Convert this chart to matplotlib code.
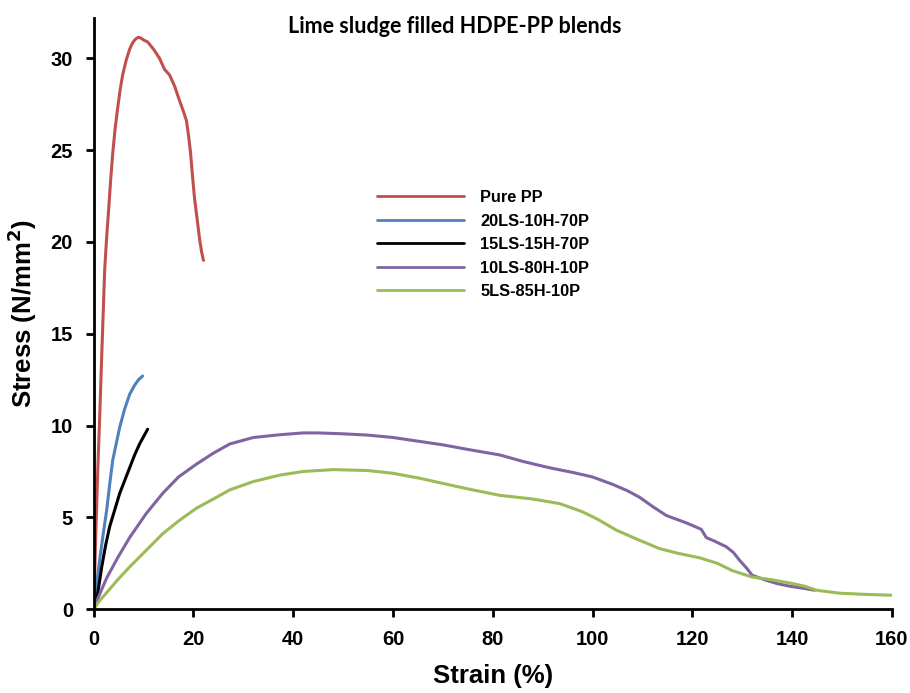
import matplotlib.pyplot as plt

# strain (%) / stress (N/mm2)
pp_x = [0, 0.4, 0.8, 1.2, 1.6, 2.2, 2.6, 3.0, 3.4, 3.8, 4.3, 4.8, 5.3, 5.8, 6.5, 7.2, 7.7, 8.2, 8.6, 9.0, 9.5, 10.0, 10.8, 11.4, 12.0, 12.6, 13.2, 13.7, 14.2, 15.2, 16.2, 17.2, 18.0, 18.6, 19.0, 19.4, 19.8, 20.2, 20.8, 21.2, 21.6, 22.0]
pp_y = [0, 4.0, 7.5, 10.5, 13.8, 18.5, 20.3, 21.8, 23.4, 24.8, 26.2, 27.3, 28.3, 29.1, 29.9, 30.5, 30.8, 31.0, 31.1, 31.15, 31.1, 31.0, 30.9, 30.7, 30.5, 30.25, 30.0, 29.7, 29.4, 29.1, 28.5, 27.7, 27.1, 26.6, 25.8, 24.9, 23.6, 22.4, 21.1, 20.2, 19.5, 19.0]

b_x = [0, 0.2, 0.6, 1.2, 1.9, 2.6, 3.2, 3.8, 4.5, 5.2, 6.2, 7.2, 8.2, 9.0, 9.8]
b_y = [0, 0.3, 1.4, 2.7, 4.1, 5.4, 6.8, 8.1, 9.0, 9.9, 10.9, 11.7, 12.2, 12.5, 12.7]

k_x = [0, 0.6, 1.6, 2.4, 3.2, 4.2, 5.2, 6.2, 7.2, 8.2, 9.2, 10.0, 10.8]
k_y = [0, 0.5, 2.3, 3.5, 4.5, 5.4, 6.3, 7.0, 7.7, 8.4, 9.0, 9.4, 9.8]

pu_x = [0, 1.0, 2.6, 4.8, 7.2, 10.5, 13.8, 17.0, 20.6, 24.0, 27.3, 32.0, 37.3, 42.0, 45.0, 50.0, 55.0, 60.0, 65.0, 70.0, 75.0, 81.4, 86.0, 91.4, 96.0, 100.0, 104.0, 107.0, 109.4, 112.0, 114.8, 116.8, 118.8, 121.8, 122.8, 124.5, 126.8, 128.2, 129.5, 131.0, 132.0, 134.5, 136.9, 139.5, 142.0, 144.5]
pu_y = [0, 0.7, 1.7, 2.8, 3.9, 5.2, 6.3, 7.2, 7.9, 8.5, 9.0, 9.35, 9.5, 9.6, 9.6, 9.55, 9.48, 9.35, 9.15, 8.95, 8.7, 8.4, 8.05, 7.7, 7.45, 7.2, 6.8, 6.45, 6.1, 5.6, 5.1, 4.9, 4.7, 4.35, 3.9, 3.7, 3.4, 3.1, 2.66, 2.2, 1.85, 1.6, 1.4, 1.25, 1.15, 1.03]

g_x = [0, 1.0, 2.6, 4.8, 7.2, 10.5, 13.8, 17.0, 20.6, 24.0, 27.3, 32.0, 37.3, 42.0, 48.0, 55.0, 60.0, 65.0, 70.0, 75.0, 81.4, 88.0, 93.4, 96.0, 98.0, 101.0, 104.8, 109.0, 113.4, 117.0, 121.4, 125.0, 128.0, 132.0, 136.0, 140.0, 142.5, 144.9, 149.5, 155.0, 160.0]
g_y = [0, 0.4, 0.9, 1.6, 2.3, 3.2, 4.1, 4.8, 5.5, 6.0, 6.5, 6.95, 7.3, 7.5, 7.6, 7.55, 7.4, 7.15, 6.85, 6.55, 6.2, 6.0, 5.75, 5.5, 5.3, 4.9, 4.3, 3.8, 3.3, 3.05, 2.8, 2.5, 2.1, 1.75, 1.6, 1.4, 1.25, 1.03, 0.87, 0.8, 0.76]

labels = ['Pure PP', '20LS-10H-70P', '15LS-15H-70P', '10LS-80H-10P', '5LS-85H-10P']
colors = ['#C0504D', '#4F81BD', '#000000', '#8064A2', '#9BBB59']

plt.rcParams['font.family'] = ['Liberation Sans', 'DejaVu Sans']

fig = plt.figure(figsize=(9.1, 6.93), dpi=100)
ax = fig.add_axes([0.103, 0.121, 0.877, 0.853])

series = [(pp_x, pp_y), (b_x, b_y), (k_x, k_y), (pu_x, pu_y), (g_x, g_y)]
for (xs, ys), lab, c in zip(series, labels, colors):
    ax.plot(xs, ys, color=c, lw=2.2, label=lab, solid_capstyle='round', solid_joinstyle='round')

ax.set_xlim(0, 160)
ax.set_ylim(0, 32.2)
ax.set_xticks(range(0, 161, 20))
ax.set_yticks(range(0, 31, 5))
for s in ['top', 'right']:
    ax.spines[s].set_visible(False)
for s in ['left', 'bottom']:
    ax.spines[s].set_linewidth(2)
ax.tick_params(width=2, length=6, labelsize=14.5, pad=9)
for t in ax.get_xticklabels() + ax.get_yticklabels():
    t.set_fontweight('bold')

ax.set_xlabel('Strain (%)', fontsize=18.5, fontweight='bold', labelpad=11)
ax.set_ylabel('Stress (N/mm$\\mathbf{^2}$)', fontsize=18.5, fontweight='bold', labelpad=8)

fig.text(0.5, 0.962, 'Lime sludge filled HDPE-PP blends', ha='center', va='center',
         fontsize=15.5, fontweight='bold', family=['Lato', 'DejaVu Sans'])

leg = ax.legend(loc='upper left', bbox_to_anchor=(0.398, 0.747), bbox_transform=fig.transFigure,
                frameon=False, prop={'size': 11.8, 'weight': 'bold'},
                handlelength=5.3, handletextpad=1.0, labelspacing=0.52)
for h in leg.get_lines():
    h.set_linewidth(2)

fig.savefig('out.png', dpi=100)
